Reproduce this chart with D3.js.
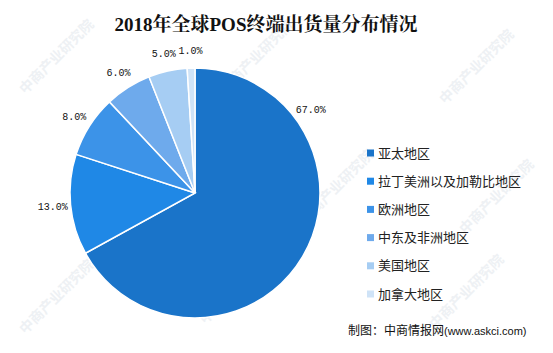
<!DOCTYPE html>
<html><head><meta charset="utf-8">
<script src="https://cdn.jsdelivr.net/npm/d3@7"></script>
<style>body{margin:0;background:#fff}</style>
</head><body>
<svg id="c" width="553" height="353"></svg>
<script>
const title = "2018年全球POS终端出货量分布情况";
const categories = ["亚太地区","拉丁美洲以及加勒比地区","欧洲地区","中东及非洲地区","美国地区","加拿大地区"];
const values = [67.0, 13.0, 8.0, 6.0, 5.0, 1.0];
const colors = ["#1a74c9","#1f88e6","#3c93e8","#6eaaec","#a6cdf3","#cfe3f7"];
const source = "制图：中商情报网";
const sourceUrl = "(www.askci.com)";
const watermark = "中商产业研究院";

const svg = d3.select("#c");
const cx = 195, cy = 193, r = 125;

// faint watermarks
const wm = svg.append("g").attr("fill","#eef1f4").attr("font-family","Noto Sans CJK SC").attr("font-size",14).attr("font-weight","bold");
[[60,60],[260,60],[480,70],[130,200],[340,190],[500,200],[60,300],[240,290],[470,295]].forEach(([x,y])=>{
  wm.append("text").attr("transform",`translate(${x},${y}) rotate(-45)`).attr("text-anchor","middle").text(watermark);
});

svg.append("text").attr("x",266).attr("y",31).attr("text-anchor","middle")
  .attr("font-family","'Liberation Serif','Noto Serif CJK SC','Noto Sans CJK SC'").attr("font-weight","bold")
  .attr("font-size",19).attr("fill","#111").text(title);

const pie = d3.pie().sort(null).value(d=>d)(values);
const arc = d3.arc().innerRadius(0).outerRadius(r);
const g = svg.append("g").attr("transform",`translate(${cx},${cy})`);
g.selectAll("path").data(pie).join("path").attr("d",arc)
  .attr("fill",(d,i)=>colors[i]).attr("stroke","#fff").attr("stroke-width",1.5);

const lr = 143;
g.selectAll("text.lbl").data(pie).join("text").attr("class","lbl")
  .each(function(d,i){
    let a = d.value > 50 ? d.startAngle + 0.224*(d.endAngle-d.startAngle) : (d.startAngle+d.endAngle)/2;
    const x = Math.sin(a)*lr, y = -Math.cos(a)*lr;
    d3.select(this).attr("x",x).attr("y",y).attr("dy","0.35em").attr("text-anchor","middle");
  })
  .attr("font-family","'Liberation Mono','DejaVu Sans Mono',monospace").attr("font-size",10).attr("fill","#111")
  .text(d=>d.value.toFixed(1)+"%");

const leg = svg.append("g");
const ly = d3.scalePoint().domain(categories).range([153,294]);
categories.forEach((c,i)=>{
  leg.append("rect").attr("x",367).attr("y",ly(c)-3.5).attr("width",7).attr("height",7).attr("fill",colors[i]);
  leg.append("text").attr("x",378).attr("y",ly(c)).attr("dy","0.36em")
    .attr("font-family","'Noto Sans CJK SC'").attr("font-size",13).attr("fill","#222").text(c);
});

const ft = svg.append("text").attr("x",348).attr("y",335).attr("font-family","'Noto Sans CJK SC'").attr("fill","#111");
ft.append("tspan").attr("font-size",12).text(source);
ft.append("tspan").attr("font-size",11).attr("font-family","'Liberation Sans','Noto Sans'").text(sourceUrl);
</script>
</body></html>
